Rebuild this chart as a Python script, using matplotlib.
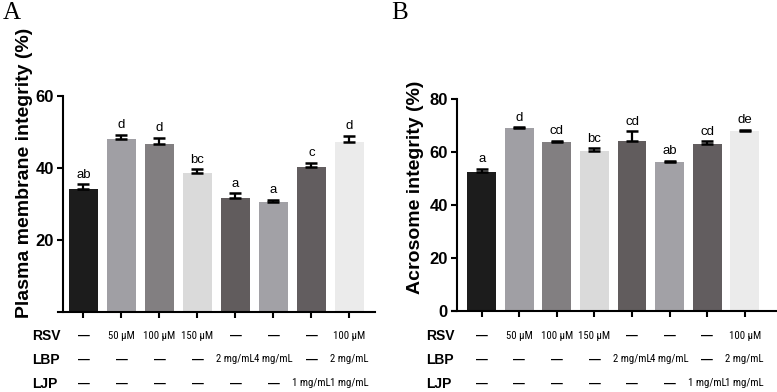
import matplotlib
matplotlib.use("Agg")
import matplotlib.pyplot as plt
import matplotlib.transforms as mtrans
from matplotlib import font_manager
from matplotlib.font_manager import FontProperties
from matplotlib.textpath import TextPath

# ---------------- data ----------------
groups = ["G1", "G2", "G3", "G4", "G5", "G6", "G7", "G8"]
pm_mean = [34.2, 48.1, 46.7, 38.6, 31.6, 30.6, 40.2, 47.2]
pm_sem = [1.3, 1.1, 1.7, 1.0, 1.3, 0.5, 1.2, 1.7]
pm_letters = ["ab", "d", "d", "bc", "a", "a", "c", "d"]

ac_mean = [52.3, 69.2, 63.7, 60.4, 64.3, 56.1, 63.1, 68.0]
ac_sem = [1.5, 0.3, 0.6, 1.0, 3.6, 0.6, 1.1, 0.4]
ac_letters = ["a", "d", "cd", "bc", "cd", "ab", "cd", "de"]

row_names = ["RSV", "LBP", "LJP"]
rsv_row = ["—", "50 μM", "100 μM", "150 μM", "—", "—", "—", "100 μM"]
lbp_row = ["—", "—", "—", "—", "2 mg/mL", "4 mg/mL", "—", "2 mg/mL"]
ljp_row = ["—", "—", "—", "—", "—", "—", "1 mg/mL", "1 mg/mL"]

pm_yticks = [20, 40, 60]
ac_yticks = [0, 20, 40, 60, 80]

bar_colors = ["#1c1c1c", "#a09fa4", "#827f81", "#dadada",
              "#615c5d", "#a2a1a6", "#625d5f", "#ebebeb"]

W, H = 777, 392
fig = plt.figure(figsize=(W / 100, H / 100), dpi=100)

SANS = ["Liberation Sans", "DejaVu Sans"]


# ---- pick a narrow font for the condition table ----
def _is_regular(f):
    fn = f.fname.lower()
    bad = ["bold", "italic", "oblique", "light", "thin", "black", "medium",
           "semibold", "extrabold", "heavy"]
    return not any(b in fn for b in bad)


def _find_narrow():
    prefs = ["liberation sans narrow", "roboto condensed", "noto sans",
             "open sans", "dejavu sans", "roboto"]
    cands = []
    for f in font_manager.fontManager.ttflist:
        fn = f.fname.lower()
        nm = f.name.lower()
        flat = fn.replace("-", "").replace("_", "")
        narrow = ("narrow" in nm or "condensed" in nm or "narrow" in fn
                  or "condensed" in fn or "condensed" in str(f.stretch))
        if narrow and "semicondensed" not in flat \
                and "extracondensed" not in flat and _is_regular(f):
            rank = len(prefs)
            for i, p in enumerate(prefs):
                if nm.startswith(p):
                    rank = i
                    break
            cands.append((rank, f.fname))
    if cands:
        cands.sort()
        return FontProperties(fname=cands[0][1])
    return FontProperties(family="Liberation Sans")


NARROW_FP = _find_narrow()
_wpt = TextPath((0, 0), "2 mg/mL", size=10, prop=NARROW_FP).get_extents().width
_wpx = _wpt * 100 / 72
NARROW_SIZE = min(10.0, 10.0 * 37.5 / _wpx)
NARROW_FP.set_size(NARROW_SIZE)


def px_axes(x0, x1, ybot, ytop):
    return fig.add_axes([x0 / W, 1 - ybot / H, (x1 - x0) / W, (ybot - ytop) / H])


def draw_panel(ax, means, sems, letters, yticks, ylim, xlim, yaxis_x,
               ylabel, ylabel_xy, row_x, letter, letter_xy):
    x = list(range(len(means)))
    ax.bar(x, means, width=0.77, color=bar_colors, edgecolor="none", zorder=2)
    ax.errorbar(x, means, yerr=[[0] * len(sems), sems], fmt="none",
                ecolor="black", elinewidth=1.6, capsize=4.2, capthick=1.8,
                zorder=3)
    for xi, m, s, lt in zip(x, means, sems, letters):
        ax.annotate(lt, (xi, m + s), xytext=(0, 2.5), textcoords="offset points",
                    ha="center", va="bottom", fontsize=9.5, family=SANS)
    ax.set_xlim(*xlim)
    ax.set_ylim(*ylim)
    for s in ["top", "right"]:
        ax.spines[s].set_visible(False)
    ax.spines["left"].set_position(("data", yaxis_x))
    for s in ["left", "bottom"]:
        ax.spines[s].set_linewidth(1.5)
    ax.spines["left"].set_bounds(ylim[0], ylim[1])
    ax.set_yticks(yticks)
    ax.set_yticklabels([str(t) for t in yticks], fontsize=12,
                       fontweight="bold", family=SANS)
    ax.set_xticks(x)
    ax.set_xticklabels([""] * len(x))
    ax.tick_params(axis="both", direction="out", length=4, width=1.5, pad=2.5)
    ax.set_facecolor("none")

    trans = mtrans.blended_transform_factory(ax.transData, fig.transFigure)
    rows = [rsv_row, lbp_row, ljp_row]
    row_y = [336, 359.5, 383.5]
    for name, vals, yy in zip(row_names, rows, row_y):
        fig.text(row_x / W, 1 - yy / H, name, ha="left", va="center",
                 fontsize=10, fontweight="bold", family=SANS)
        for xi, v in zip(x, vals):
            if v == "—":
                ax.text(xi, 1 - yy / H, v, transform=trans, ha="center",
                        va="center", fontsize=8.5, fontweight="bold",
                        family=SANS)
            else:
                ax.text(xi, 1 - yy / H, v, transform=trans, ha="center",
                        va="center", fontproperties=NARROW_FP)

    fig.text(ylabel_xy[0] / W, 1 - ylabel_xy[1] / H, ylabel, rotation=90,
             ha="center", va="center", fontsize=14, fontweight="bold",
             family=SANS)
    fig.text(letter_xy[0] / W, 1 - letter_xy[1] / H, letter, ha="left",
             va="top", fontsize=18, family=["Liberation Serif", "DejaVu Serif"])


axA = px_axes(58.3, 375.3, 311.7, 96)
draw_panel(axA, pm_mean, pm_sem, pm_letters, pm_yticks, (0, 60),
           (-0.66, 7.68), -0.53, "Plasma membrane integrity (%)", (25, 173),
           32, "A", (3, 2))

axB = px_axes(451.7, 777, 310.7, 99.3)
draw_panel(axB, ac_mean, ac_sem, ac_letters, ac_yticks, (0, 80),
           (-0.80, 7.86), -0.66, "Acrosome integrity (%)", (416, 187.5),
           426, "B", (391, 2))

fig.savefig("out.png", dpi=100)
